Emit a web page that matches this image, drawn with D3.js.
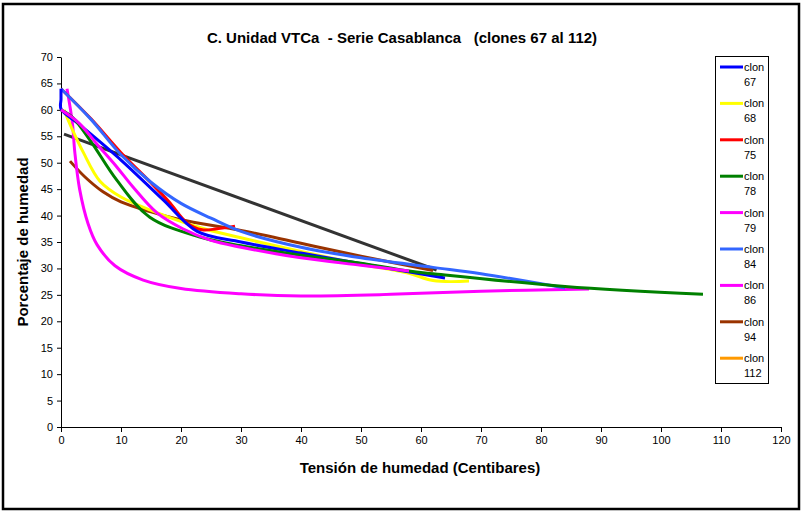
<!DOCTYPE html>
<html>
<head>
<meta charset="utf-8">
<script src="https://cdnjs.cloudflare.com/ajax/libs/d3/7.8.5/d3.min.js"></script>
<style>
    body { margin: 0; background: #fff; }
    text { font-family: "Liberation Sans", Arial, sans-serif; }
</style>
</head>
<body>
<div id="d3-container"></div>
<script>
// Data: [tension (cb), humidity (%)]
var clon67 = [[0, 64], [0, 62], [0, 60.2], [3, 57.3], [10, 50.5], [17, 43], [22.7, 37], [30, 35], [40, 32.9], [52, 30.5], [64, 28.2]];
var clon68 = [[0.5, 60], [1.8, 56.5], [3.7, 52], [6.5, 46.5], [10, 43.5], [15, 41], [23, 37.8], [30, 35.8], [40, 33.2], [50, 30.8], [58, 29.1], [62, 27.7], [68, 27.6]];
var clon75 = [[0, 64], [5, 58.3], [10, 51.9], [15, 46.2], [18, 42.6], [21, 38.6], [23.5, 37.3], [26, 37.5], [29, 38]];
var clon78 = [[0, 60], [2, 58.5], [5, 54], [9.3, 46.7], [14.8, 39.7], [23, 36], [30, 34.3], [40, 32.5], [50, 31], [58, 29.5], [62, 29], [84, 26.6], [107, 25.1]];
var clon79 = [[0, 60], [3, 57.5], [6, 53.5], [9.3, 49.2], [12, 45.4], [16, 40.5], [20.3, 37.5], [25, 35.3], [30, 34], [40, 32], [50, 30.6], [58, 29.5]];
var clon84 = [[0, 64], [5, 58.2], [10, 51.5], [15, 46.3], [20, 42.3], [25, 39.5], [30, 37], [40, 34], [50, 32], [62, 30.2], [70, 29], [84, 26.3]];
var clon86 = [[1, 64], [1.9, 57.5], [2.3, 52], [3.1, 45], [4.5, 38.5], [6, 34.5], [9, 30.5], [13.7, 27.8], [20, 26.2], [30, 25.2], [40, 24.8], [55, 25.1], [70, 25.7], [88, 26.1]];
var clon94 = [[1.5, 50.3], [4, 47.3], [7, 44.5], [10, 42.6], [15, 40.7], [20, 39.2], [30, 37.2], [39.8, 34.8], [50, 32.3], [62, 29.6]];
var clon112 = [];
var extraSeries = [[0.5, 55.4], [62.6, 29.7]];

var legendNames = ["clon 67", "clon 68", "clon 75", "clon 78", "clon 79", "clon 84", "clon 86", "clon 94", "clon 112"];
var legendColors = ["#0000ff", "#ffff00", "#ff0000", "#008000", "#ff00ff", "#3366ff", "#ff00ff", "#993300", "#ff9900"];
var xTicks = [0, 10, 20, 30, 40, 50, 60, 70, 80, 90, 100, 110, 120];
var yTicks = [0, 5, 10, 15, 20, 25, 30, 35, 40, 45, 50, 55, 60, 65, 70];

// Series in drawing order (later ones on top)
var series = [
    { values: extraSeries, color: "#333333" },
    { values: clon94, color: legendColors[7] },
    { values: clon86, color: legendColors[6] },
    { values: clon68, color: legendColors[1] },
    { values: clon75, color: legendColors[2] },
    { values: clon84, color: legendColors[5] },
    { values: clon67, color: legendColors[0] },
    { values: clon78, color: legendColors[3] },
    { values: clon79, color: legendColors[4] },
    { values: clon112, color: legendColors[8] }
];

var width = 804, height = 512;

var svg = d3.select("#d3-container").append("svg")
    .attr("width", width)
    .attr("height", height);

// Outer chart border
svg.append("rect")
    .attr("x", 3)
    .attr("y", 4)
    .attr("width", 796)
    .attr("height", 505)
    .attr("fill", "#fff")
    .attr("stroke", "#000")
    .attr("stroke-width", 2.5);

// Scales
var x = d3.scaleLinear().domain([0, 120]).range([61, 781]);
var y = d3.scaleLinear().domain([0, 70]).range([427, 57]);

// Axes
var xAxis = d3.axisBottom(x).tickValues(xTicks).tickSize(5).tickPadding(4).tickSizeOuter(0);
var yAxis = d3.axisLeft(y).tickValues(yTicks).tickSize(4).tickPadding(4).tickSizeOuter(0);

var xG = svg.append("g")
    .attr("transform", "translate(0," + y(0) + ")")
    .call(xAxis);
var yG = svg.append("g")
    .attr("transform", "translate(" + x(0) + ",0)")
    .call(yAxis);

[xG, yG].forEach(function(g) {
    g.selectAll("path, line").attr("stroke", "#000");
    g.selectAll("text")
        .attr("fill", "#000")
        .style("font-size", "11px")
        .style("font-family", "'Liberation Sans', Arial, sans-serif");
});

// Lines, smoothed like the spreadsheet chart
var line = d3.line()
    .x(function(d) { return x(d[0]); })
    .y(function(d) { return y(d[1]); })
    .curve(d3.curveCatmullRom.alpha(0.5));

svg.append("g").selectAll("path")
    .data(series.filter(function(s) { return s.values.length > 0; }))
    .join("path")
    .attr("d", function(s) { return line(s.values); })
    .attr("fill", "none")
    .attr("stroke", function(s) { return s.color; })
    .attr("stroke-width", 3)
    .attr("stroke-linejoin", "round")
    .attr("stroke-linecap", "butt");

// Titles
svg.append("text")
    .attr("x", 402)
    .attr("y", 43)
    .attr("text-anchor", "middle")
    .style("font-size", "15px")
    .style("font-weight", "bold")
    .style("white-space", "pre")
    .text("C. Unidad VTCa  - Serie Casablanca   (clones 67 al 112)");

svg.append("text")
    .attr("x", 420)
    .attr("y", 473)
    .attr("text-anchor", "middle")
    .style("font-size", "15px")
    .style("font-weight", "bold")
    .text("Tensión de humedad (Centibares)");

svg.append("text")
    .attr("transform", "translate(28,242) rotate(-90)")
    .attr("text-anchor", "middle")
    .style("font-size", "15px")
    .style("font-weight", "bold")
    .text("Porcentaje de humedad");

// Legend
var legend = svg.append("g");
legend.append("rect")
    .attr("x", 715.5)
    .attr("y", 56.5)
    .attr("width", 53)
    .attr("height", 327)
    .attr("fill", "#fff")
    .attr("stroke", "#000")
    .attr("stroke-width", 1);

var legendItem = legend.selectAll("g.item")
    .data(legendNames)
    .join("g")
    .attr("class", "item")
    .attr("transform", function(d, i) { return "translate(720," + (67 + i * 36.4) + ")"; });

legendItem.append("line")
    .attr("x1", 0)
    .attr("x2", 23)
    .attr("y1", 0)
    .attr("y2", 0)
    .attr("stroke", function(d, i) { return legendColors[i]; })
    .attr("stroke-width", 3);

legendItem.append("text")
    .attr("x", 24)
    .attr("y", 4)
    .style("font-size", "11px")
    .text(function(d) { return d.split(" ")[0]; });

legendItem.append("text")
    .attr("x", 24)
    .attr("y", 19)
    .style("font-size", "11px")
    .text(function(d) { return d.split(" ")[1]; });
</script>
</body>
</html>
